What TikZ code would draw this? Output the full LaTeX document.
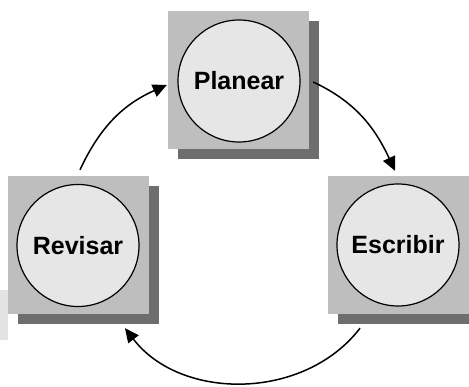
\documentclass[tikz,border=0pt]{standalone}
\usepackage{fontspec}
\setmainfont{Liberation Sans}
\usetikzlibrary{arrows.meta}
\definecolor{boxgray}{HTML}{BEBEBE}
\definecolor{shadowgray}{HTML}{6E6E6E}
\definecolor{discgray}{HTML}{E6E6E6}
\tikzset{
  stagebox/.style={rectangle, fill=boxgray, minimum width=141, minimum height=138, inner sep=0},
  stageshadow/.style={rectangle, fill=shadowgray, minimum width=141, minimum height=138, inner sep=0},
  stagedisc/.style={circle, draw=black, line width=1.2, fill=discgray, minimum size=122, inner sep=0,
    font=\fontsize{25}{29}\selectfont\bfseries},
  cyclearrow/.style={line width=1.5, -{Triangle[length=14, width=13]}},
}
\begin{document}
\begin{tikzpicture}[x=1pt, y=-1pt]
  \useasboundingbox (0,0) rectangle (469,387);
  \clip (0,0) rectangle (469,387);
  % faint strip on the left edge
  \fill[gray!22] (0,290) rectangle (8,340);
  % drop shadows
  \node[stageshadow] (planS) at (248.5,90.5) {};
  \node[stageshadow] (revS) at (88.5,255) {};
  \node[stageshadow] (escS) at (408.5,255) {};
  % square backgrounds
  \node[stagebox] (planB) at (238.5,80.5) {};
  \node[stagebox] (revB) at (78.5,245) {};
  \node[stagebox] (escB) at (398.5,245) {};
  % stage discs
  \node[stagedisc] (plan) at (239,81) {Planear};
  \node[stagedisc] (rev) at (78,245.5) {Revisar};
  \node[stagedisc] (esc) at (398,245) {Escribir};
  % cycle arrows
  \draw[cyclearrow] ([xshift=1.5, yshift=6]revB.north) to[out=65, in=204] ([xshift=-1, yshift=-4.5]planB.west);
  \draw[cyclearrow] ([xshift=-6, yshift=8.5]planS.east) to[out=-25, in=115] ([xshift=-3.5, yshift=5]escB.north);
  \draw[cyclearrow] ([xshift=-48.5, yshift=-4]escS.south) to[out=-127.5, in=-52.5] ([xshift=36.5, yshift=-4]revS.south);
\end{tikzpicture}
\end{document}
